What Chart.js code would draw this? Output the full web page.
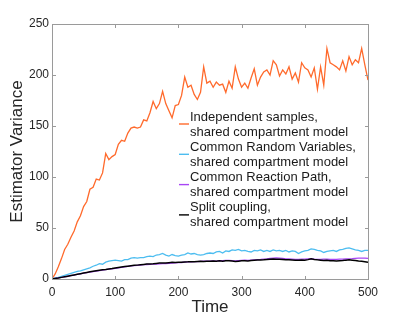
<!DOCTYPE html>
<html>
<head>
<meta charset="utf-8">
<script src="https://cdn.jsdelivr.net/npm/chart.js@4/dist/chart.umd.min.js"></script>
<style>
  body { margin: 0; background: #fff; }
  canvas { display: block; }
</style>
</head>
<body>
<canvas id="varChart" width="407" height="318"></canvas>
<script>
// ==== DATA ====
const times = [0, 5, 10, 15, 20, 25, 30, 35, 40, 45, 50, 55, 60, 65, 70, 75, 80, 85, 90, 95,
  100, 105, 110, 115, 120, 125, 130, 135, 140, 145, 150, 155, 160, 165, 170, 175, 180, 185, 190, 195,
  200, 205, 210, 215, 220, 225, 230, 235, 240, 245, 250, 255, 260, 265, 270, 275, 280, 285, 290, 295,
  300, 305, 310, 315, 320, 325, 330, 335, 340, 345, 350, 355, 360, 365, 370, 375, 380, 385, 390, 395,
  400, 405, 410, 415, 420, 425, 430, 435, 440, 445, 450, 455, 460, 465, 470, 475, 480, 485, 490, 495, 500];

const independent = [0, 5, 12, 20, 29, 34, 41, 47, 56, 62, 71, 76, 88, 90, 98, 97, 104, 123, 117, 120,
  122, 132, 136, 135, 143, 148, 149, 148, 149, 156, 155, 163, 174, 167, 172, 184, 172, 165, 158, 170,
  171, 180, 198, 188, 190, 181, 176, 183, 208, 192, 194, 188, 193, 190, 191, 183, 194, 187, 208, 196,
  188, 192, 187, 197, 206, 190, 198, 203, 205, 200, 214, 210, 199, 205, 201, 208, 196, 202, 193, 212,
  207, 205, 198, 207, 186, 208, 190, 226, 212, 210, 208, 205, 214, 204, 218, 210, 215, 212, 226, 210, 195];

const crv = [0, 1, 1.5, 2.5, 3.5, 4.5, 5.5, 6.5, 7.5, 8, 9, 10, 11, 12.5, 13.5, 15, 14.5, 16.5, 17.5, 18,
  18.5, 18, 17.5, 19, 19, 20.5, 21, 20.5, 21, 21, 22, 22.5, 22, 23.5, 24, 25, 23.5, 22.5, 24, 23,
  22.5, 23.5, 24, 25.5, 24.5, 25, 24, 23.5, 24, 25, 25.5, 25, 26.5, 27, 25.5, 27.5, 27, 28.5, 28, 29,
  27.5, 28, 27, 26.5, 28, 27.5, 28.5, 27, 28, 27, 28.5, 27.5, 28, 27, 28, 26.5, 27.5, 27, 25, 26.5,
  27.5, 28, 29.5, 29, 28, 27.5, 26, 27, 27.5, 28, 27, 28.5, 29, 30, 30.5, 29.5, 28.5, 28, 27, 28, 28];

const crp = [0, 0.5, 1, 1.5, 2.1, 2.7, 3.3, 3.9, 4.5, 5.1, 5.7, 6.3, 6.8, 7.3, 7.8, 8.3, 8.8, 9.2, 9.6, 10,
  10.5, 11, 11.5, 12, 12.4, 12.8, 13.1, 13.4, 13.7, 14, 14.2, 14.4, 14.5, 14.7, 14.9, 15.1, 15, 15.4, 15.6, 15.9,
  16.1, 16.2, 16.5, 16.7, 16.8, 17, 17.1, 17.3, 17.5, 17.6, 17.5, 17.8, 17.6, 18, 17.9, 18.2, 18.3, 18, 17.8, 18,
  18.2, 18.4, 18.3, 18.6, 18.8, 19, 19.2, 19.5, 19.8, 20.2, 20.4, 20.6, 20.5, 20.2, 19.8, 19.6, 19.4, 19.2, 19.3, 19.5,
  19.4, 19.6, 19.8, 19.5, 19.3, 19.2, 19.4, 19.5, 19.3, 19.1, 19.2, 19.4, 19.5, 19.6, 19.7, 19.9, 20.2, 20.4, 20.5, 20.4, 20.2];

const split = [0, 0.5, 1, 1.6, 2.2, 2.8, 3.4, 4, 4.6, 5.2, 5.8, 6.4, 7, 7.5, 8, 8.5, 9, 9.3, 9.8, 10.2,
  10.8, 11.3, 11.8, 12.2, 12.6, 13, 13.4, 13.6, 14, 14.3, 14.6, 14.8, 15, 15.3, 15.6, 15.8, 15.7, 16, 16.3, 16.1,
  16.5, 16.4, 16.7, 16.8, 17, 16.8, 17.1, 17.3, 17.2, 17.5, 17.3, 17.6, 17.4, 17.8, 17.5, 17.9, 18, 17.7, 17.2, 17.5,
  17.8, 18, 17.7, 18.2, 18.4, 18.6, 18.7, 18.8, 19.1, 19.4, 19.5, 19.3, 19.4, 19.1, 18.8, 18.9, 18.6, 18.3, 18.5, 18.7,
  18.4, 19, 19.8, 19.2, 18.8, 18.5, 18.2, 18.4, 18, 17.8, 17.6, 17.9, 18.1, 18.5, 18.8, 18.5, 18.2, 17.6, 17.4, 17, 16.5];

const legendLabels = [
  ["Independent samples,", "shared compartment model"],
  ["Common Random Variables,", "shared compartment model"],
  ["Common Reaction Path,", "shared compartment model"],
  ["Split coupling,", "shared compartment model"]
];
const xTicks = [0, 100, 200, 300, 400, 500];
const yTicks = [0, 50, 100, 150, 200, 250];

const colors = ["#ff6a2c", "#4dbdf0", "#a846f5", "#000000"];
const FRAME = "#9a9a9a";
const FONT = "'Liberation Sans', Arial, Helvetica, sans-serif";

function toPoints(vals) {
  return vals.map((v, i) => ({ x: times[i], y: v }));
}

// axes box and inward ticks, drawn as 1px filled rectangles
const boxPlugin = {
  id: "boxWithTicks",
  afterDraw(chart) {
    const ctx = chart.ctx;
    const sx = chart.scales.x, sy = chart.scales.y;
    const L = Math.round(sx.getPixelForValue(0));
    const R = Math.round(sx.getPixelForValue(500));
    const T = Math.round(sy.getPixelForValue(250));
    const B = Math.round(sy.getPixelForValue(0));
    ctx.save();
    ctx.globalAlpha = 1;
    ctx.globalCompositeOperation = "source-over";
    ctx.fillStyle = FRAME;
    ctx.fillRect(L, T, R - L, 1);      // top
    ctx.fillRect(L, B, R - L + 1, 1);  // bottom
    ctx.fillRect(L, T, 1, B - T);      // left
    ctx.fillRect(R, T, 1, B - T + 1);  // right
    for (const t of xTicks) {
      const px = Math.round(sx.getPixelForValue(t));
      ctx.fillRect(px, B - 3, 1, 3);
      ctx.fillRect(px, T + 1, 1, 3);
    }
    for (const t of yTicks) {
      const py = Math.round(sy.getPixelForValue(t));
      ctx.fillRect(L + 1, py, 3, 1);
      ctx.fillRect(R - 3, py, 3, 1);
    }
    ctx.restore();
  }
};

// two-line legend entries inside the plot
const legendPlugin = {
  id: "twoLineLegend",
  afterDraw(chart) {
    const ctx = chart.ctx;
    const x0 = 179, y0 = 117, entryGap = 30.3, lineGap = 15;
    ctx.save();
    ctx.font = "13px " + FONT;
    ctx.textBaseline = "middle";
    ctx.textAlign = "left";
    ctx.fillStyle = "#1a1a1a";
    legendLabels.forEach((lines, i) => {
      const y = y0 + i * entryGap;
      ctx.strokeStyle = colors[i];
      ctx.lineWidth = 1.4;
      ctx.beginPath();
      ctx.moveTo(x0, y + 7);
      ctx.lineTo(x0 + 10, y + 7);
      ctx.stroke();
      lines.forEach((txt, j) => ctx.fillText(txt, x0 + 11, y + j * lineGap));
    });
    ctx.restore();
  }
};

const seriesList = [independent, crv, crp, split];

new Chart(document.getElementById("varChart").getContext("2d"), {
  type: "line",
  data: {
    datasets: seriesList.map((s, i) => ({
      label: legendLabels[i].join(" "),
      data: toPoints(s),
      borderColor: colors[i],
      borderWidth: i === 3 ? 1.5 : 1.3,
      pointRadius: 0,
      tension: 0,
      fill: false,
      order: 3 - i
    }))
  },
  options: {
    responsive: false,
    animation: false,
    layout: { padding: { top: 24, right: 39, left: 0, bottom: 0 } },
    plugins: {
      legend: { display: false },
      tooltip: { enabled: false }
    },
    scales: {
      x: {
        type: "linear",
        min: 0,
        max: 500,
        afterBuildTicks: scale => { scale.ticks = xTicks.map(v => ({ value: v })); },
        afterFit: scale => { scale.height = 39; },
        grid: { display: false, drawTicks: false },
        border: { display: true, color: FRAME, width: 1 },
        ticks: { padding: 6, color: "#262626", font: { family: FONT, size: 12 }, maxRotation: 0 },
        title: {
          display: true,
          text: "Time",
          color: "#262626",
          font: { family: FONT, size: 17 },
          padding: { top: 0, bottom: 0 }
        }
      },
      y: {
        min: 0,
        max: 250,
        afterBuildTicks: scale => { scale.ticks = yTicks.map(v => ({ value: v })); },
        afterFit: scale => { scale.width = 52; },
        grid: { display: false, drawTicks: false },
        border: { display: true, color: FRAME, width: 1 },
        ticks: { padding: 3, color: "#262626", font: { family: FONT, size: 12 } },
        title: {
          display: true,
          text: "Estimator Variance",
          color: "#262626",
          font: { family: FONT, size: 17 },
          padding: { top: 7, bottom: 0 }
        }
      }
    }
  },
  plugins: [boxPlugin, legendPlugin]
});
</script>
</body>
</html>
